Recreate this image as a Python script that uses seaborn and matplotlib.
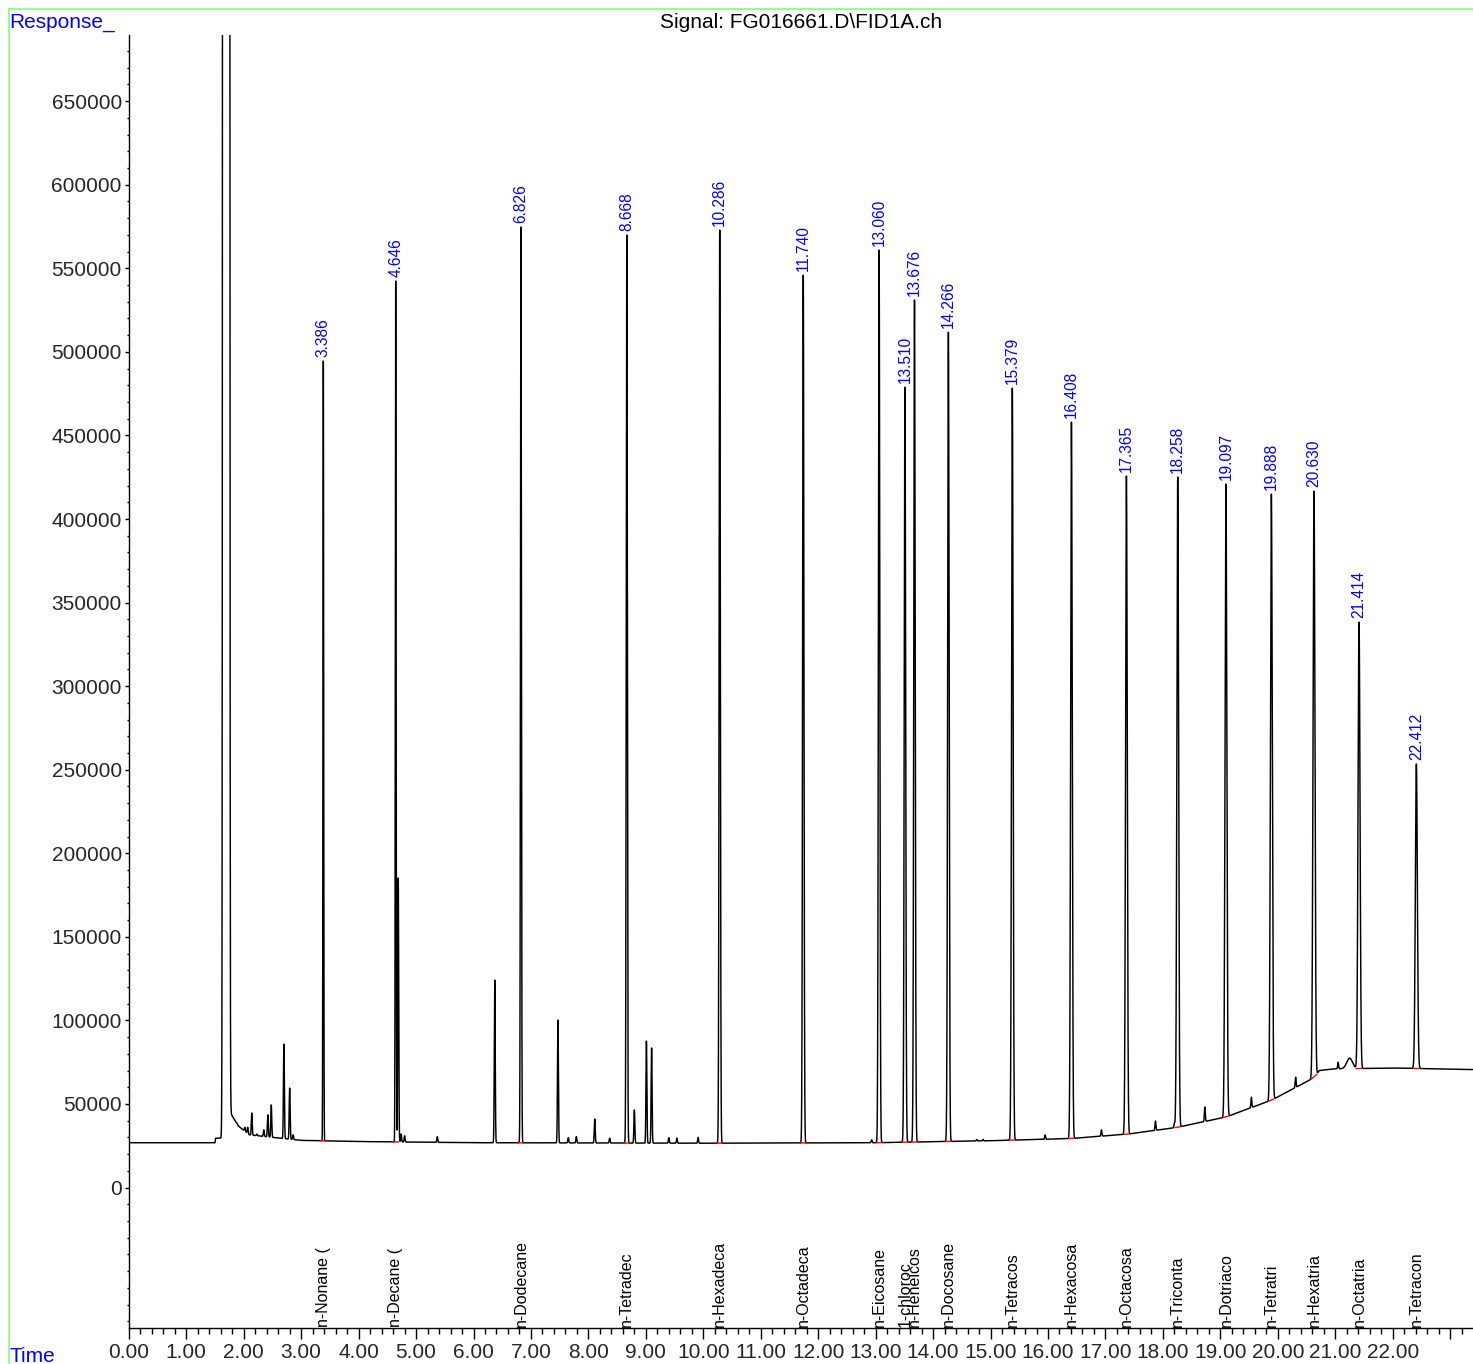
import numpy as np
import pandas as pd
import matplotlib
matplotlib.use("Agg")
import matplotlib.pyplot as plt
import matplotlib.ticker as mticker
import matplotlib.transforms as mtransforms
from matplotlib.lines import Line2D
import seaborn as sns

# ---- integrated peaks (retention time in min, apex response, compound) ----
peak_rt = [3.386, 4.646, 6.826, 8.668, 10.286, 11.740, 13.060, 13.510, 13.676,
           14.266, 15.379, 16.408, 17.365, 18.258, 19.097, 19.888, 20.630,
           21.414, 22.412]
peak_apex = [494500, 542400, 574700, 569900, 572900, 545900, 560900, 478900,
             531000, 511800, 478300, 458000, 425700, 425100, 420900, 414900,
             416700, 338300, 253400]
peak_name = ["n-Nonane (", "n-Decane (", "n-Dodecane", "n-Tetradec",
             "n-Hexadeca", "n-Octadeca", "n-Eicosane", "1-chloroc",
             "n-Heneicos", "n-Docosane", "n-Tetracos", "n-Hexacosa",
             "n-Octacosa", "n-Triconta", "n-Dotriaco", "n-Tetratri",
             "n-Hexatria", "n-Octatria", "n-Tetracon"]

# ---- unlabelled peaks (retention time, apex response) ----
minor_rt = [1.88, 2.02, 2.07, 2.14, 2.23, 2.35, 2.42, 2.48, 2.70, 2.80, 2.86,
            4.69, 4.74, 4.80, 5.37, 6.37, 7.47, 7.65, 7.79, 8.11, 8.37, 8.80,
            9.01, 9.10, 9.40, 9.54, 9.91, 12.93, 14.76, 14.87, 15.95, 16.93,
            17.87, 18.20, 18.73, 19.54, 20.31, 21.05]
minor_apex = [38700, 36000, 36000, 44600, 32000, 34500, 43500, 49400, 85800,
              59500, 31500, 185200, 32000, 31000, 30400, 124100, 100200, 29800,
              30500, 41000, 29500, 46400, 87600, 83500, 29800, 29500, 30000,
              28500, 28700, 28800, 31500, 34500, 39800, 38600, 48200, 54000,
              66000, 75000]

# broad hump late in the run
hump_rt = 21.25
hump_apex = 77400

# solvent peak (off scale)
solvent_rt = 1.695
solvent_apex = 1.0e9

# ---- baseline drift ----
baseline_t = [0.00, 1.50, 1.51, 1.62, 1.78, 1.90, 2.10, 2.50, 3.00, 4.00, 6.00,
              10.00, 13.00, 15.00, 16.40, 17.40, 18.25, 19.10, 19.90, 20.65,
              20.72, 21.00, 22.00, 23.50]
baseline_v = [26800, 26800, 29500, 29500, 44000, 37000, 31500, 30000, 28200,
              27500, 26800, 26500, 26800, 28000, 29300, 32000, 36000, 42200,
              52400, 66000, 70000, 71000, 71500, 70500]

# ---- build the trace ----
t = np.arange(0.0, 23.5, 0.0005)
base = np.interp(t, baseline_t, baseline_v)
signal = base.copy()


def add_peak(rt, apex, sigma):
    amp = apex - np.interp(rt, baseline_t, baseline_v)
    return amp * np.exp(-0.5 * ((t - rt) / sigma) ** 2)


for rt, apex in zip(peak_rt, peak_apex):
    signal += add_peak(rt, apex, 0.006 + 0.0006 * (rt - 3.0))
for rt, apex in zip(minor_rt, minor_apex):
    signal += add_peak(rt, apex, 0.008)
signal += add_peak(hump_rt, hump_apex, 0.05)
signal += add_peak(solvent_rt, solvent_apex, 0.017)

trace = pd.DataFrame({"Time": t, "Response": signal})

# ---- figure ----
sns.set_theme(style="white")
plt.rcParams["font.family"] = ["Liberation Sans", "DejaVu Sans"]

W, H = 1473, 1364
fig = plt.figure(figsize=(W / 100, H / 100), dpi=100)
x0_px, x1_px, ytop_px, ybot_px = 128.8, 1473, 35, 1328
px_per_min = 57.45
ax = fig.add_axes([x0_px / W, 1 - ybot_px / H, (x1_px - x0_px) / W,
                   (ybot_px - ytop_px) / H])

sns.lineplot(data=trace, x="Time", y="Response", ax=ax, color="black",
             linewidth=1.05, estimator=None, sort=False)

# integration baselines
for rt in peak_rt:
    xs = [rt - 0.05, rt + 0.05]
    ys = np.interp(xs, baseline_t, baseline_v)
    ax.plot(xs, ys, color="red", linewidth=1.0, zorder=3)

ax.set_xlim(0, (x1_px - x0_px) / px_per_min)
ax.set_ylim(-84060, 689600)

# retention time labels
for rt, apex in zip(peak_rt, peak_apex):
    ax.annotate(f"{rt:.3f}", xy=(rt, apex), xytext=(0, 3),
                textcoords="offset points", rotation=90, ha="center",
                va="bottom", color="#0000ff", fontsize=11.2)

# compound names along the time axis
trans = mtransforms.blended_transform_factory(ax.transData, ax.transAxes)
for rt, name in zip(peak_rt, peak_name):
    ax.text(rt, 0.001, name, transform=trans, rotation=90, ha="center",
            va="bottom", color="black", fontsize=11.5)

# axes styling
for side in ["top", "right"]:
    ax.spines[side].set_visible(False)
for side in ["left", "bottom"]:
    ax.spines[side].set_color("black")
    ax.spines[side].set_linewidth(1.0)

ax.set_xticks(np.arange(0, 24, 1.0))
ax.set_xticklabels([f"{v:.2f}" if v <= 22 else "" for v in np.arange(0, 24, 1.0)])
ax.xaxis.set_minor_locator(mticker.MultipleLocator(0.2))
ax.set_yticks(np.arange(0, 650001, 50000))
ax.set_yticklabels([str(v) for v in range(0, 650001, 50000)])
ax.yaxis.set_minor_locator(mticker.MultipleLocator(10000))

ax.tick_params(axis="x", which="major", direction="out", length=8, width=1,
               labelsize=15, pad=3, color="black", bottom=True)
ax.tick_params(axis="x", which="minor", direction="out", length=4.5, width=1,
               color="black", bottom=True)
ax.tick_params(axis="y", which="major", direction="out", length=3, width=1,
               labelsize=15, pad=2, color="black", left=True)
ax.tick_params(axis="y", which="minor", direction="out", length=1.8, width=1,
               color="black", left=True)
ax.set_xlabel("")
ax.set_ylabel("")
ax.grid(False)

# header and axis captions
fig.text(801 / W, 1 - 22 / H, "Signal: FG016661.D\\FID1A.ch", ha="center",
         va="center", fontsize=15, color="black")
fig.text(9 / W, 1 - 22 / H, "Response_", ha="left", va="center",
         fontsize=15, color="#0000ff")
fig.text(9 / W, 1 - 1356 / H, "Time", ha="left", va="center",
         fontsize=15, color="#0000ff")

# frame
fig.add_artist(Line2D([8.5 / W, 8.5 / W], [1 - 8.5 / H, 0], transform=fig.transFigure,
                      color="#80ff80", linewidth=1.2))
fig.add_artist(Line2D([8.5 / W, 1], [1 - 8.5 / H, 1 - 8.5 / H], transform=fig.transFigure,
                      color="#80ff80", linewidth=1.2))

fig.savefig("out.png", dpi=100)
